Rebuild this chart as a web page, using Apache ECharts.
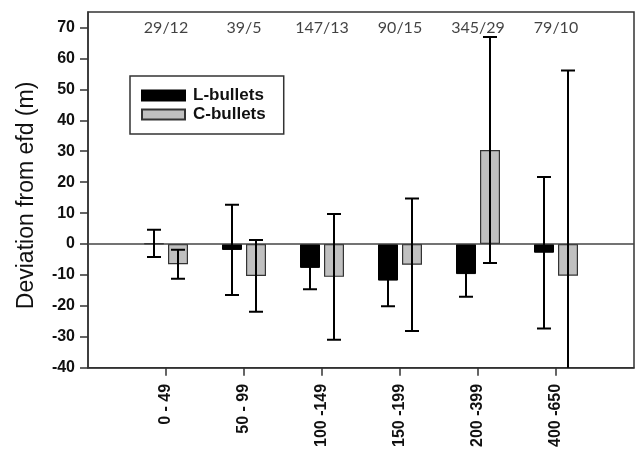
<!DOCTYPE html>
<html>
<head>
<meta charset="utf-8">
<title>Deviation from efd</title>
<script src="https://cdn.jsdelivr.net/npm/echarts@6/dist/echarts.min.js"></script>
<style>
    html, body { margin: 0; padding: 0; background: #fff; }
    #main { width: 641px; height: 450px; }
</style>
</head>
<body>
<div id="main"></div>
<script type="text/javascript">
    // distance classes and the n (L/C) counts printed above each group
    var categories = ['0 - 49', '50 - 99', '100 -149', '150 -199', '200 -399', '400 -650'];
    var countLabels = ['29/12', '39/5', '147/13', '90/15', '345/29', '79/10'];

    // mean deviation and error (sd)
    var lMean = [0.2, -1.9, -7.7, -11.8, -9.7, -2.8];
    var lErr = [4.4, 14.6, 6.9, 8.3, 7.3, 24.5];
    var cMean = [-6.5, -10.3, -10.6, -6.7, 30.4, -10.2];
    var cErr = [4.7, 11.6, 20.3, 21.4, 36.5, 66.3];

    var yTicks = [-40, -30, -20, -10, 0, 10, 20, 30, 40, 50, 60, 70];

    // one empty slot each side so the groups sit where the original ticks are
    var axisCats = [''].concat(categories, ['']);
    function padded(arr) { return ['-'].concat(arr, ['-']); }

    var tickFont = { fontFamily: 'Liberation Sans', fontWeight: 'bold', fontSize: 16, color: '#111' };

    function errorSeries(name, means, errs, offset) {
        return {
            name: name,
            type: 'custom',
            clip: true,
            z: 5,
            data: means.map(function (m, i) { return [i + 1, m - errs[i], m + errs[i]]; }),
            renderItem: function (params, api) {
                var lo = api.coord([api.value(0), api.value(1)]);
                var hi = api.coord([api.value(0), api.value(2)]);
                var x = lo[0] + offset;
                var cap = 7;
                var style = { stroke: '#000', lineWidth: 2 };
                return {
                    type: 'group',
                    children: [
                        { type: 'line', shape: { x1: x, y1: lo[1], x2: x, y2: hi[1] }, style: style },
                        { type: 'line', shape: { x1: x - cap, y1: lo[1], x2: x + cap, y2: lo[1] }, style: style },
                        { type: 'line', shape: { x1: x - cap, y1: hi[1], x2: x + cap, y2: hi[1] }, style: style }
                    ]
                };
            }
        };
    }

    var chart = echarts.init(document.getElementById('main'));

    var option = {
        animation: false,
        grid: {
            left: 88, top: 12, right: 7, bottom: 81,
            show: true, borderColor: '#333', borderWidth: 1.5, backgroundColor: 'transparent'
        },
        legend: {
            data: ['L-bullets', 'C-bullets'],
            orient: 'vertical',
            left: 130,
            top: 76,
            icon: 'rect',
            itemWidth: 43,
            itemHeight: 10,
            itemGap: 0,
            padding: [10, 18, 10, 11],
            borderColor: '#333',
            borderWidth: 1.5,
            textStyle: {
                fontFamily: 'Liberation Sans', fontWeight: 'bold', fontSize: 17,
                color: '#111', lineHeight: 19, padding: [0, 0, 0, 3]
            }
        },
        xAxis: {
            type: 'category',
            data: axisCats,
            boundaryGap: false,
            axisLine: { onZero: false, lineStyle: { color: '#333', width: 1.5 } },
            axisTick: {
                interval: function (i) { return i > 0 && i < axisCats.length - 1; },
                length: 8,
                lineStyle: { color: '#333', width: 1.5 }
            },
            axisLabel: Object.assign({ rotate: 90, interval: 0, margin: 16 }, tickFont),
            splitLine: { show: false }
        },
        yAxis: {
            type: 'value',
            min: -40,
            max: 75,
            name: 'Deviation from efd (m)',
            nameLocation: 'middle',
            nameGap: 50,
            nameTextStyle: { fontFamily: 'Liberation Sans', fontSize: 23, color: '#111', padding: [0, 11, 0, 0] },
            axisLine: { show: true, lineStyle: { color: '#333', width: 1.5 } },
            axisTick: { show: true, length: 8, customValues: yTicks, lineStyle: { color: '#333', width: 1.5 } },
            axisLabel: Object.assign({ margin: 13, customValues: yTicks }, tickFont),
            splitLine: { show: false }
        },
        series: [
            {
                name: 'L-bullets',
                type: 'bar',
                data: padded(lMean),
                barWidth: 20,
                barGap: '20%',
                itemStyle: { color: '#000', borderColor: '#000', borderWidth: 1 },
                markLine: {
                    silent: true,
                    symbol: 'none',
                    label: { show: false },
                    lineStyle: { color: '#444', width: 1.5, type: 'solid' },
                    data: [{ yAxis: 0 }]
                }
            },
            {
                name: 'C-bullets',
                type: 'bar',
                data: padded(cMean),
                barWidth: 20,
                itemStyle: { color: '#c0c0c0', borderColor: '#333', borderWidth: 1.2 }
            },
            errorSeries('L-err', lMean, lErr, -12),
            errorSeries('C-err', cMean, cErr, 12),
            {
                name: 'counts',
                type: 'scatter',
                symbolSize: 0,
                silent: true,
                data: countLabels.map(function (t, i) { return [i + 1, 70, t]; }),
                label: {
                    show: true,
                    position: 'inside',
                    formatter: function (p) { return p.data[2]; },
                    fontFamily: 'Lato', fontSize: 16, color: '#111'
                }
            }
        ]
    };

    chart.setOption(option);
</script>
</body>
</html>
